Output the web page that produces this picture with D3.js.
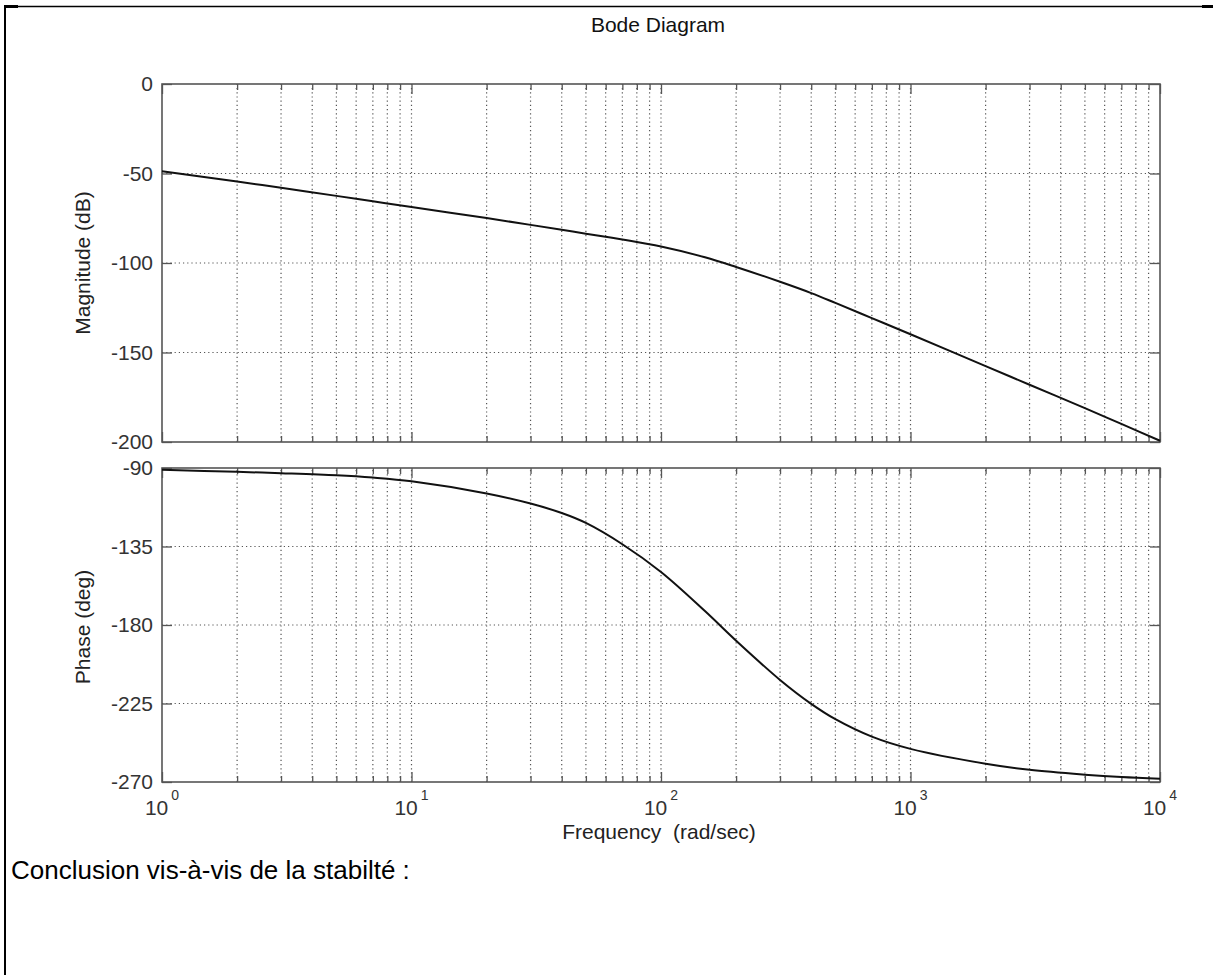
<!DOCTYPE html>
<meta charset="utf-8">
<script src="https://d3js.org/d3.v7.min.js"></script>
<style>
    body { margin: 0; background: #fff; }
    text { font-family: "Liberation Sans", Arial, sans-serif; }
    .grid { stroke: #555; stroke-width: 1.2; stroke-dasharray: 1.2,3; }
    .box { fill: none; stroke: #555; stroke-width: 1.6; }
    .curve { fill: none; stroke: #111; stroke-width: 2; }
    .tick line { stroke: #555; stroke-width: 1.3; }
    .tick text { fill: #333; font-size: 21px; }
</style>
<body>
<div id="chart"></div>
<script>
    // values
    var freq = [1, 2, 3, 5, 7, 10, 20, 30, 40, 50, 70, 100, 150, 200, 300, 400, 500, 700, 1000, 2000, 3000, 5000, 7000, 10000];
    var magnitude = [-48.8, -54.5, -58.0, -62.5, -65.5, -68.7, -74.9, -78.7, -81.4, -83.6, -86.9, -90.8, -96.8, -102.2, -110.5, -116.8, -122.3, -130.8, -139.8, -157.6, -168.0, -181.1, -189.9, -199.3];
    var phase = [-91.0, -92.2, -93.0, -94.2, -95.5, -97.6, -104.6, -110.4, -115.8, -121.5, -133.7, -149.6, -172.0, -189.0, -211.5, -225.2, -234.0, -244.0, -251.0, -259.5, -263.0, -265.8, -267.2, -268.2];

    var magTicks = [-200, -150, -100, -50, 0];
    var phaseTicks = [-270, -225, -180, -135, -90];
    var decades = [1, 10, 100, 1000, 10000];
    var minorSteps = [2, 3, 4, 5, 6, 7, 8, 9];

    const width = 1213, height = 975;

    var minor = [];
    decades.slice(0, -1).forEach(d => minorSteps.forEach(m => minor.push(d * m)));

    var x = d3.scaleLog().domain([1, 10000]).range([162, 1160]);
    var yMag = d3.scaleLinear().domain([-200, 0]).range([442, 84]);
    var yPh = d3.scaleLinear().domain([-270, -90]).range([782, 468]);

    var svg = d3.select("#chart").append("svg")
        .attr("width", width)
        .attr("height", height);

    function panel(y, yTicks, values) {
        var g = svg.append("g");
        var y0 = y.range()[0], y1 = y.range()[1];
        var x0 = x.range()[0], x1 = x.range()[1];

        g.selectAll(".vgrid").data(minor.concat(decades.slice(1, -1))).join("line")
            .attr("class", "grid vgrid")
            .attr("x1", d => x(d)).attr("x2", d => x(d))
            .attr("y1", y0).attr("y2", y1);
        g.selectAll(".hgrid").data(yTicks.slice(1, -1)).join("line")
            .attr("class", "grid hgrid")
            .attr("x1", x0).attr("x2", x1)
            .attr("y1", d => y(d)).attr("y2", d => y(d));

        g.append("g").attr("transform", `translate(${x0},0)`)
            .call(d3.axisLeft(y).tickValues(yTicks).tickSizeInner(-10).tickSizeOuter(0)
                .tickPadding(9).tickFormat(d => String(d)));
        g.append("g").attr("transform", `translate(${x1},0)`)
            .call(d3.axisRight(y).tickValues(yTicks).tickSizeInner(-10).tickSizeOuter(0).tickFormat(""));

        g.append("g").attr("transform", `translate(0,${y0})`)
            .call(d3.axisBottom(x).tickValues(decades).tickSizeInner(-10).tickSizeOuter(0).tickFormat(""));
        g.append("g").attr("transform", `translate(0,${y0})`)
            .call(d3.axisBottom(x).tickValues(minor).tickSizeInner(-6).tickSizeOuter(0).tickFormat(""));
        g.append("g").attr("transform", `translate(0,${y1})`)
            .call(d3.axisTop(x).tickValues(decades).tickSizeInner(-10).tickSizeOuter(0).tickFormat(""));
        g.append("g").attr("transform", `translate(0,${y1})`)
            .call(d3.axisTop(x).tickValues(minor).tickSizeInner(-6).tickSizeOuter(0).tickFormat(""));
        g.selectAll(".domain").remove();

        g.append("rect").attr("class", "box")
            .attr("x", x0).attr("y", y1)
            .attr("width", x1 - x0).attr("height", y0 - y1);

        var line = d3.line()
            .x(d => x(d[0]))
            .y(d => y(d[1]))
            .curve(d3.curveCatmullRom.alpha(0.5));
        g.append("path").attr("class", "curve")
            .datum(d3.zip(freq, values))
            .attr("d", line);
    }

    panel(yMag, magTicks, magnitude);
    panel(yPh, phaseTicks, phase);

    // decade labels 10^n
    var lab = svg.append("g").selectAll("text").data(decades).join("text")
        .attr("x", d => x(d))
        .attr("y", 815)
        .attr("text-anchor", "middle")
        .attr("fill", "#333")
        .attr("font-size", 21);
    lab.append("tspan").text("10");
    lab.append("tspan").attr("dx", 3).attr("dy", -15).attr("font-size", 14)
        .text(d => Math.round(Math.log10(d)));

    svg.append("text")
        .attr("x", 658).attr("y", 32)
        .attr("text-anchor", "middle")
        .attr("fill", "#111").attr("font-size", 21)
        .text("Bode Diagram");

    svg.append("text")
        .attr("x", 659).attr("y", 839)
        .attr("text-anchor", "middle")
        .attr("fill", "#222").attr("font-size", 21)
        .style("white-space", "pre")
        .text("Frequency  (rad/sec)");

    svg.append("text")
        .attr("transform", "translate(90,263) rotate(-90)")
        .attr("text-anchor", "middle")
        .attr("fill", "#222").attr("font-size", 21)
        .text("Magnitude (dB)");

    svg.append("text")
        .attr("transform", "translate(90,627) rotate(-90)")
        .attr("text-anchor", "middle")
        .attr("fill", "#222").attr("font-size", 21)
        .text("Phase (deg)");

    svg.append("text")
        .attr("x", 11).attr("y", 879)
        .attr("fill", "#000").attr("font-size", 26)
        .text("Conclusion vis-à-vis de la stabilté :");

    // page frame
    svg.append("line").attr("x1", 4).attr("x2", width).attr("y1", 6.5).attr("y2", 6.5)
        .attr("stroke", "#000").attr("stroke-width", 1.5);
    svg.append("line").attr("x1", 5).attr("x2", 5).attr("y1", 5).attr("y2", height)
        .attr("stroke", "#000").attr("stroke-width", 2);
    svg.append("rect").attr("x", 4).attr("y", 5).attr("width", 14).attr("height", 3).attr("fill", "#000");
    svg.append("rect").attr("x", 1202).attr("y", 5).attr("width", 11).attr("height", 3).attr("fill", "#000");
</script>
</body>
